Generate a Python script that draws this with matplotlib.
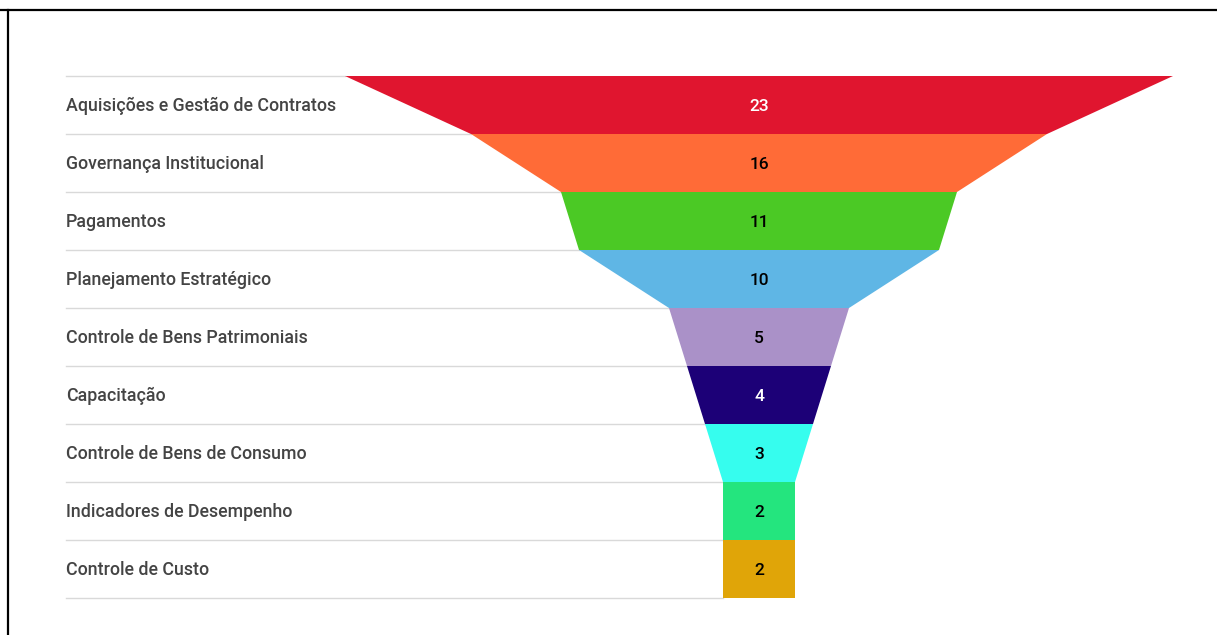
import matplotlib
matplotlib.use("Agg")
import matplotlib.pyplot as plt
from matplotlib.patches import Polygon
from matplotlib.lines import Line2D

categorias = [
    "Aquisições e Gestão de Contratos",
    "Governança Institucional",
    "Pagamentos",
    "Planejamento Estratégico",
    "Controle de Bens Patrimoniais",
    "Capacitação",
    "Controle de Bens de Consumo",
    "Indicadores de Desempenho",
    "Controle de Custo",
]
valores = [23, 16, 11, 10, 5, 4, 3, 2, 2]
cores = ["#E0152F", "#FF6B37", "#4BC925", "#5FB6E5", "#AA91C8",
         "#1C0077", "#36FDEE", "#24E57E", "#E0A508"]
cor_texto = ["white", "black", "black", "black", "black",
             "white", "black", "black", "black"]

plt.rcParams["font.family"] = ["Roboto", "DejaVu Sans"]

W, H = 1217, 635
fig = plt.figure(figsize=(W / 100, H / 100), dpi=100)
ax = fig.add_axes([0, 0, 1, 1])

# escala: 36 px por unidade, centro do funil em x=759 px, linhas de 58 px a partir de y=76 px
px_unid = 36.0
cx = 759.0
ax.set_xlim(-cx / px_unid, (W - cx) / px_unid)
ax.set_ylim((H - 76) / 58.0, -76 / 58.0)
ax.axis("off")

x_rotulo = (66 - cx) / px_unid
n = len(valores)

# linhas separadoras, da coluna de rótulos até a borda do funil
larguras = valores + [valores[-1]]
for i in range(n + 1):
    ax.plot([x_rotulo, -larguras[i] / 2], [i, i], color="#D9D9D9", lw=1.0, zorder=1)

for i, (cat, v) in enumerate(zip(categorias, valores)):
    prox = larguras[i + 1]
    pts = [(-v / 2, i), (v / 2, i), (prox / 2, i + 1), (-prox / 2, i + 1)]
    ax.add_patch(Polygon(pts, closed=True, facecolor=cores[i], edgecolor="none", zorder=2))
    ax.text(0, i + 0.52, str(v), ha="center", va="center", fontsize=12.5,
            fontweight="medium", color=cor_texto[i], zorder=3)
    ax.text(x_rotulo, i + 0.52, cat, ha="left", va="center", fontsize=12.8,
            fontweight="medium", color="#444444", zorder=3)

# moldura (só topo e lado esquerdo aparecem)
fig.add_artist(Line2D([0, 1], [1 - 9.5 / H, 1 - 9.5 / H], color="black", lw=1.6,
                      transform=fig.transFigure))
fig.add_artist(Line2D([7.5 / W, 7.5 / W], [0, 1 - 9.5 / H], color="black", lw=1.6,
                      transform=fig.transFigure))

fig.savefig("out.png", dpi=100, facecolor="white")
plt.close(fig)
